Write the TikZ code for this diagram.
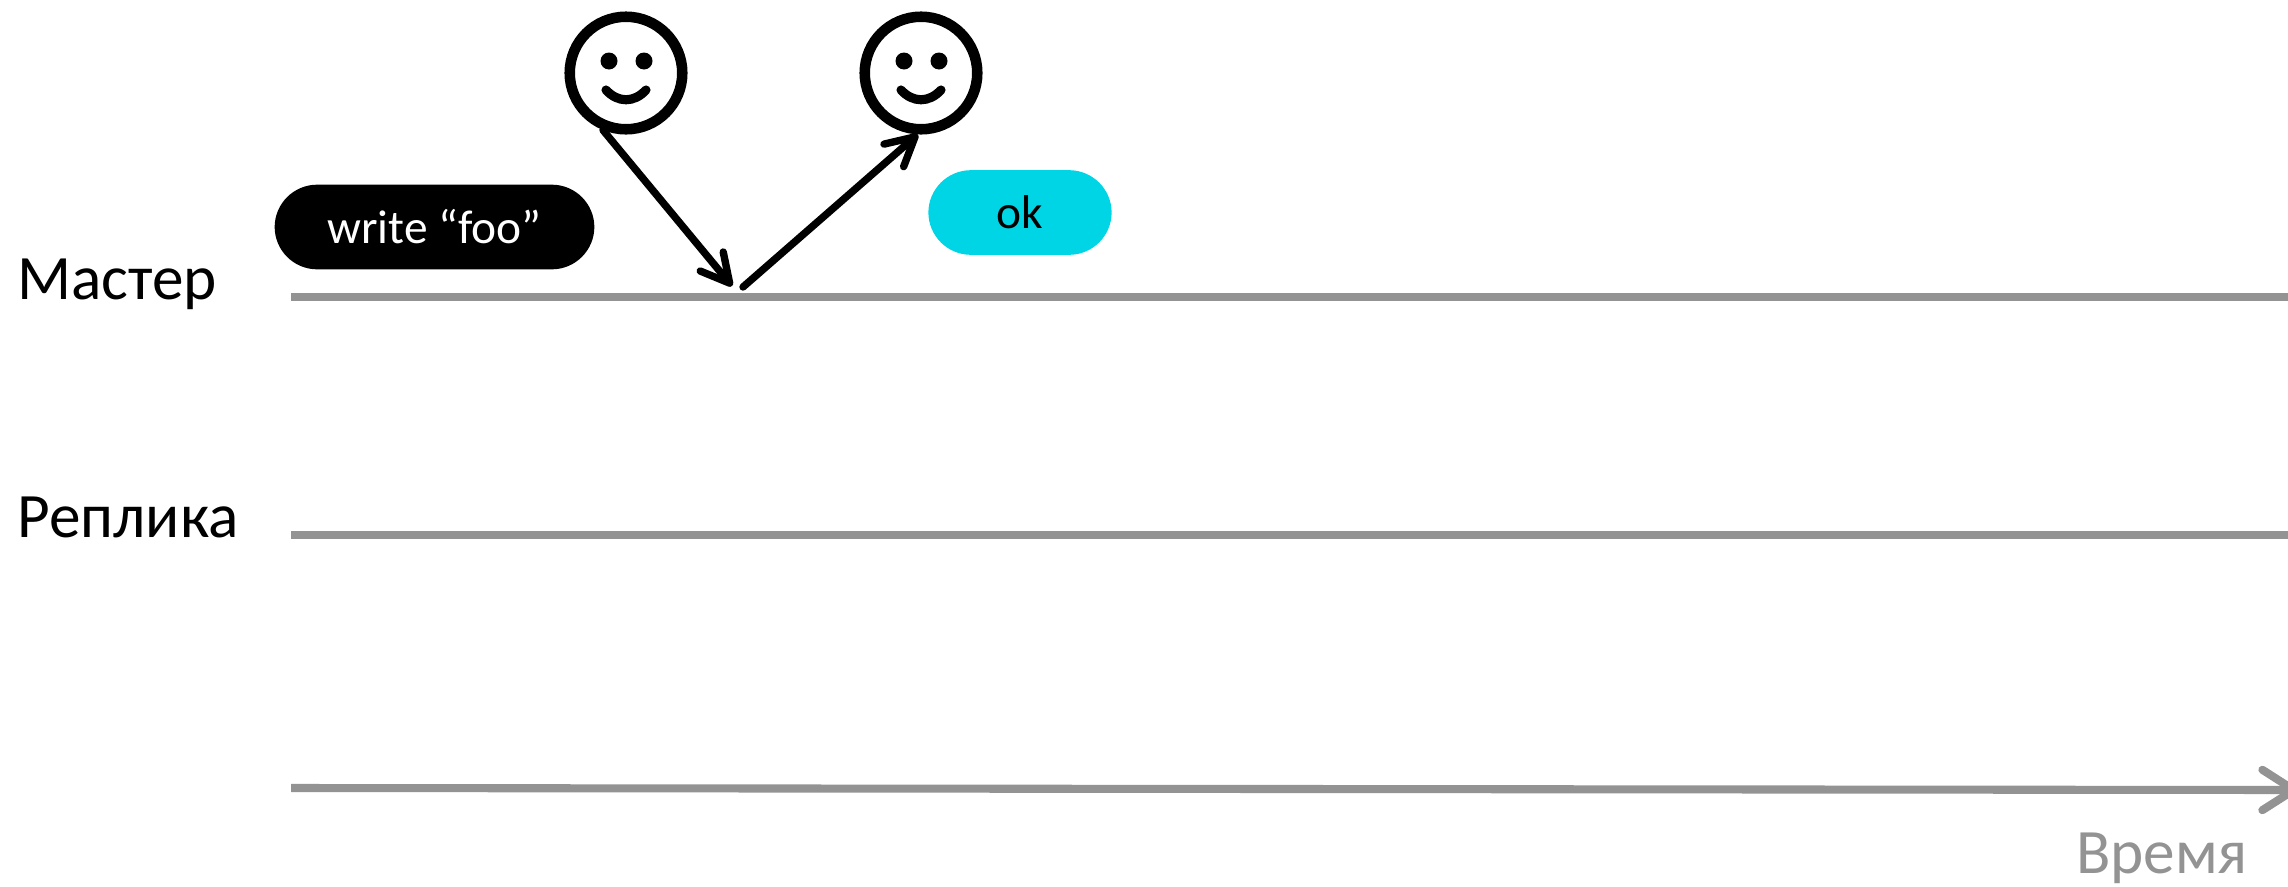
\documentclass[tikz,border=0pt]{standalone}
\usepackage{fontspec}
\setmainfont{Carlito}
\usepackage{xcolor}
\usepackage{tikz}
\usetikzlibrary{arrows.meta, calc}
\definecolor{linegray}{HTML}{939393}
\definecolor{okfill}{HTML}{00D5E6}
\tikzset{
  pill/.style={rectangle, rounded corners=24.2pt, minimum height=85*0.5669pt, inner sep=0pt, font=\fontsize{27}{32}\selectfont},
  reqpill/.style={pill, fill=black, text=white, minimum width=321*0.5669pt},
  okpill/.style={pill, fill=okfill, text=black, minimum width=184*0.5669pt},
  lab/.style={anchor=base west, inner sep=0pt, font=\fontsize{36}{43}\selectfont},
  timeline/.style={line width=4.6pt, draw=linegray},
  face/.style={circle, draw=black, line width=6pt, minimum size=113*0.5669pt, inner sep=0pt},
  arr/.style={-{Straight Barb[length=16pt, width=17pt, round]}, line width=4.2pt, line cap=round, draw=black},
  arrtime/.style={timeline, -{Straight Barb[length=18pt, width=23pt, round]}, line cap=butt},
}

\begin{document}
\begin{tikzpicture}[x=0.02cm, y=-0.02cm]
  \useasboundingbox (0,0) rectangle (2288,886);
  \clip (0,0) rectangle (2288,886);
  % timelines
  \node[lab] (masterlab) at (17,299) {Мастер};
  \node[lab] (replicalab) at (17,537) {Реплика};
  \coordinate (masterL) at (291,297);
  \coordinate (masterR) at (2288,297);
  \coordinate (replicaL) at (291,535);
  \coordinate (replicaR) at (2288,535);
  \coordinate (timeL) at (291,788);
  \coordinate (timeR) at (2298,790);
  \draw[timeline] (masterL) -- (masterR);
  \draw[timeline] (replicaL) -- (replicaR);
  \draw[arrtime] (timeL) -- (timeR);
  \node[lab, text=linegray] (timelab) at (2076,873) {Время};
  % clients
  \node[face] (userA) at (626,73) {};
  \node[face] (userB) at (921,73) {};
  \foreach \user in {userA, userB} {
    \fill ($(\user)+(-17,-12)$) circle (8.5);
    \fill ($(\user)+(18,-12)$) circle (8.5);
    \draw[line width=5.2pt, line cap=round] ($(\user)+(-20,17)$) .. controls ($(\user)+(-8,30)$) and ($(\user)+(8,30)$) .. ($(\user)+(20,17)$);
  }
  % requests
  \node[reqpill] (write) at (434.5,227) {write “foo”};
  \node[okpill] (ok) at (1020,212.5) {ok};
  \coordinate (writeEnd) at (732,286);
  \coordinate (okStart) at (743,287);
  \draw[arr] (userA.248) -- (writeEnd);
  \draw[arr] (okStart) -- (userB.267);
\end{tikzpicture}
\end{document}
